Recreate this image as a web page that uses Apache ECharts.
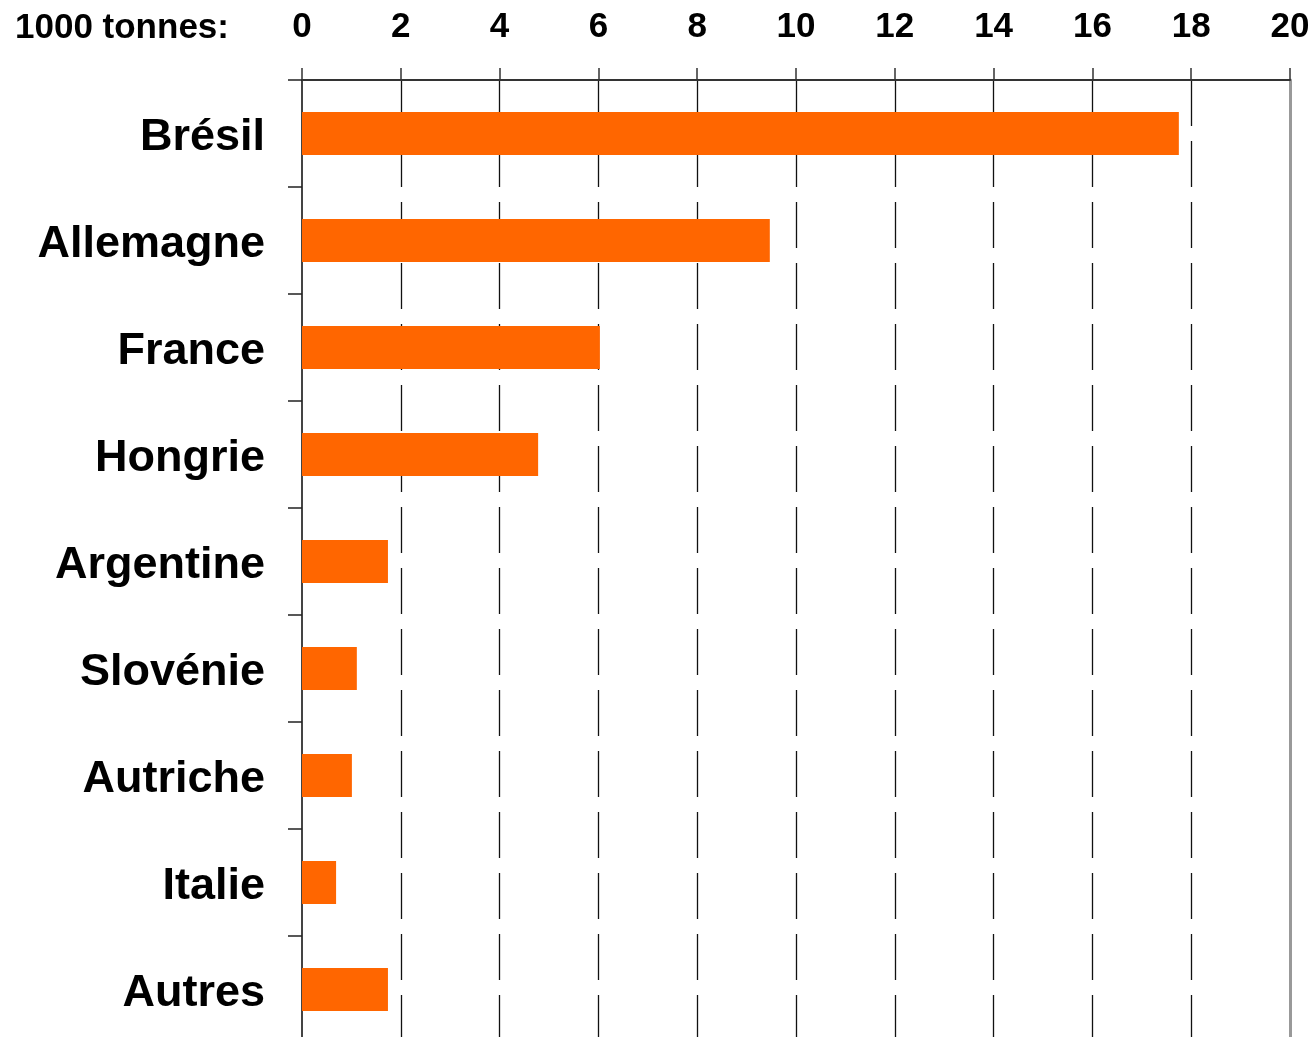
<!DOCTYPE html>
<html>
<head>
<meta charset="utf-8">
<script src="https://cdn.jsdelivr.net/npm/echarts@6/dist/echarts.min.js"></script>
<style>
  html, body { margin: 0; padding: 0; background: #fff; overflow: hidden; }
  /* un peu plus haut que la fenetre : la derniere bande est coupee */
  #main { width: 1314px; height: 1043px; }
</style>
</head>
<body>
<div id="main"></div>
<script>
// pays producteurs
const countries = ["Brésil", "Allemagne", "France", "Hongrie", "Argentine", "Slovénie", "Autriche", "Italie", "Autres"];
// production, 1000 tonnes
const production = [17.75, 9.47, 6.03, 4.78, 1.74, 1.11, 1.01, 0.69, 1.74];
const unitLabel = "1000 tonnes:";

const font = "'Liberation Sans', Arial, sans-serif";

const chart = echarts.init(document.getElementById("main"));
chart.setOption({
  animation: false,
  title: {
    text: unitLabel,
    left: 10,
    top: 6,
    textStyle: { fontFamily: font, fontWeight: "bold", fontSize: 35, color: "#000" },
  },
  grid: { left: 302, right: 24, top: 80, bottom: 0 },
  xAxis: {
    type: "value",
    position: "top",
    min: 0,
    max: 20,
    interval: 2,
    axisLine: { show: true, lineStyle: { color: "#333", width: 2 } },
    axisTick: { show: true, length: 12, lineStyle: { color: "#333", width: 1.5 } },
    axisLabel: { margin: 35, fontFamily: font, fontWeight: "bold", fontSize: 35, color: "#000" },
    splitLine: {
      show: true,
      showMinLine: false,
      showMaxLine: false,
      lineStyle: { color: "#111", width: 1.3, type: [46, 15] },
    },
  },
  yAxis: [
    {
      type: "category",
      data: countries,
      inverse: true,
      axisLine: { show: true, lineStyle: { color: "#444", width: 2 } },
      axisTick: { show: true, length: 14, lineStyle: { color: "#222", width: 1.5 } },
      axisLabel: {
        margin: 37,
        // petit decalage vers le bas du texte
        formatter: v => "{a|" + v + "}{s|}",
        rich: {
          a: { fontFamily: font, fontWeight: "bold", fontSize: 45, color: "#000", verticalAlign: "bottom" },
          s: { width: 0, height: 54 },
        },
      },
    },
    {
      // bordure droite
      type: "category",
      data: countries,
      inverse: true,
      position: "right",
      axisLine: { show: true, lineStyle: { color: "#999", width: 3 } },
      axisTick: { show: false },
      axisLabel: { show: false },
    },
  ],
  series: [
    {
      type: "bar",
      data: production,
      barWidth: 43,
      itemStyle: { color: "#FF6600" },
    },
  ],
});
</script>
</body>
</html>
